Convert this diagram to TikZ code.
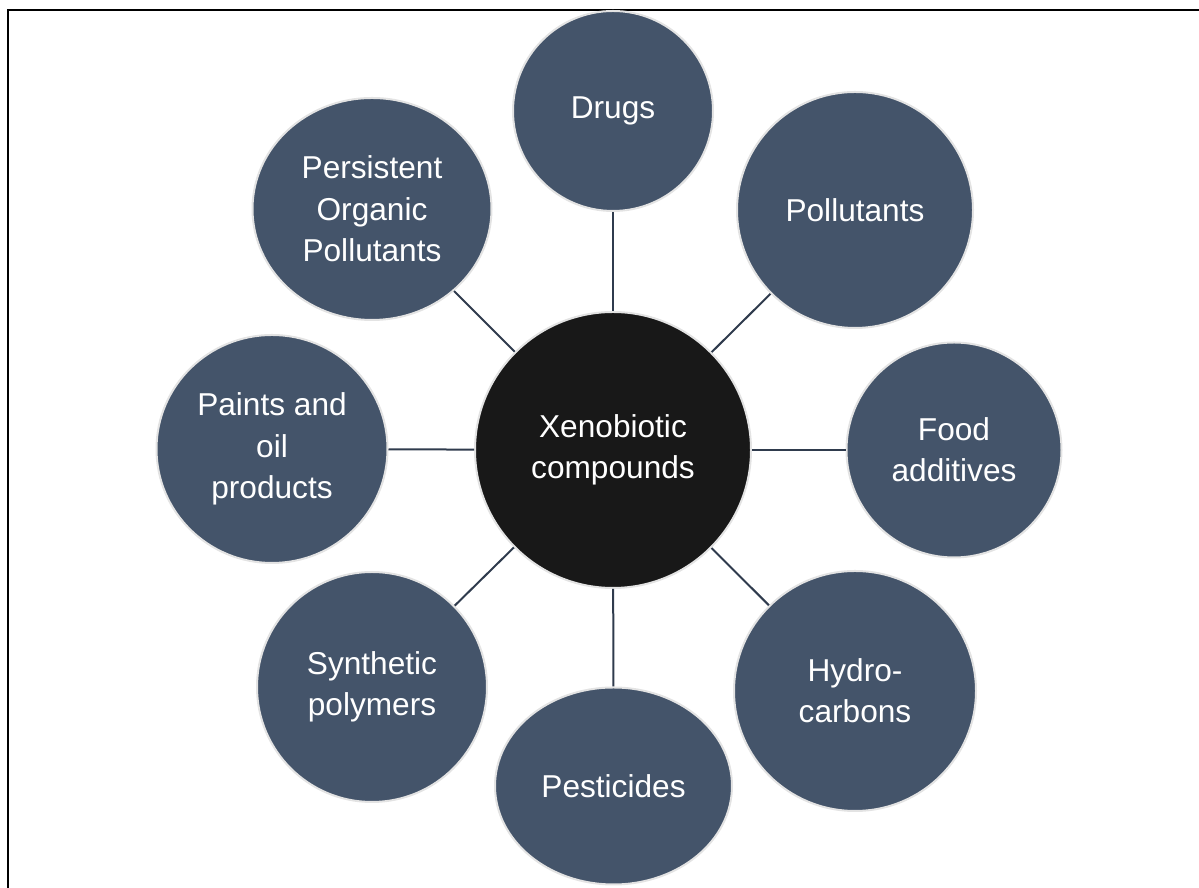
\documentclass[tikz,border=0pt]{standalone}
\usepackage{fontspec}
\setmainfont{Liberation Sans}
\definecolor{BubbleFill}{HTML}{44546A}
\definecolor{HubFill}{HTML}{181818}
\definecolor{BubbleBorder}{HTML}{E3E3E3}
\definecolor{LinkColor}{HTML}{2F3B4D}
\usetikzlibrary{shapes.geometric}

\tikzset{
  Bubble/.style={ellipse, fill=BubbleFill, draw=BubbleBorder, line width=0.04cm,
    inner sep=0pt, text=white, align=center,
    font=\fontsize{18}{23.5}\selectfont},
  Link/.style={LinkColor, line width=0.04cm},
}

\begin{document}
\begin{tikzpicture}

\useasboundingbox (0,0) rectangle (23.98,17.76);

% Marco
\draw[line width=0.05cm] (0.16,-0.5) -- (0.16,17.56) -- (24.5,17.56);

% Circulo central
\node[Bubble, fill=HubFill, minimum width=5.52cm, minimum height=5.52cm]
  (Hub) at (12.26,8.76) {Xenobiotic\\compounds};

% Circulos exteriores
\node[Bubble, minimum width=4.00cm, minimum height=4.00cm]
  (Drugs) at (12.26,15.54) {Drugs};
\node[Bubble, minimum width=4.72cm, minimum height=4.72cm]
  (Pollutants) at (17.10,13.56) {Pollutants};
\node[Bubble, minimum width=4.30cm, minimum height=4.30cm]
  (Food) at (19.08,8.76) {Food\\additives};
\node[Bubble, minimum width=4.84cm, minimum height=4.80cm]
  (Hydro) at (17.10,3.94) {Hydro-\\carbons};
\node[Bubble, minimum width=4.74cm, minimum height=3.94cm]
  (Pesticides) at (12.27,2.04) {Pesticides};
\node[Bubble, minimum width=4.60cm, minimum height=4.60cm]
  (Synthetic) at (7.44,4.02) {Synthetic\\polymers};
\node[Bubble, minimum width=4.62cm, minimum height=4.56cm]
  (Paints) at (5.44,8.78) {Paints and\\oil\\products};
\node[Bubble, minimum width=4.78cm, minimum height=4.44cm]
  (Persistent) at (7.44,13.58) {Persistent\\Organic\\Pollutants};

% Conectores
\foreach \n in {Drugs,Pollutants,Food,Hydro,Pesticides,Synthetic,Paints,Persistent}
  \draw[Link] (Hub) -- (\n);

\end{tikzpicture}
\end{document}
